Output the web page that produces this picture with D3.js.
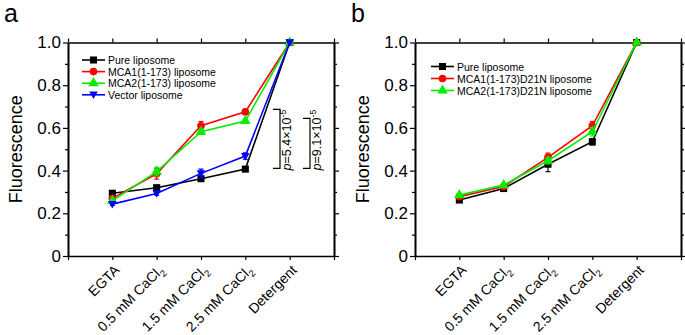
<!DOCTYPE html>
<html>
<head>
<meta charset="utf-8">
<script src="https://cdn.jsdelivr.net/npm/d3@7"></script>
<style>
  body { margin: 0; background: #fff; }
  svg text { font-family: "Liberation Sans", Arial, sans-serif; }
</style>
</head>
<body>
<div id="chart"></div>
<script>
////////////////////////////////////////////////////////////////////////
// Data

let categories = ["EGTA", "0.5 mM CaCl2", "1.5 mM CaCl2", "2.5 mM CaCl2", "Detergent"];
let yTicks = [0, 0.2, 0.4, 0.6, 0.8, 1.0];

// panel a
let pureA   = [0.294, 0.320, 0.362, 0.407, 1.0];
let pureAErr = [0.006, 0.006, 0.008, 0.006, 0.003];
let mca1A   = [0.270, 0.385, 0.610, 0.675, 1.0];
let mca1AErr = [0.010, 0.025, 0.020, 0.010, 0.003];
let mca2A   = [0.258, 0.395, 0.582, 0.632, 1.0];
let mca2AErr = [0.008, 0.020, 0.012, 0.008, 0.003];
let vectorA = [0.243, 0.293, 0.387, 0.468, 1.0];
let vectorAErr = [0.006, 0.008, 0.020, 0.015, 0.003];

// panel b
let pureB   = [0.262, 0.316, 0.430, 0.535, 1.0];
let pureBErr = [0.006, 0.006, 0.035, 0.015, 0.003];
let mca1B   = [0.278, 0.325, 0.462, 0.610, 1.0];
let mca1BErr = [0.006, 0.006, 0.020, 0.020, 0.003];
let mca2B   = [0.285, 0.332, 0.446, 0.582, 1.0];
let mca2BErr = [0.006, 0.006, 0.015, 0.020, 0.003];

// significance brackets in panel a: [top value, bottom value, label mantissa]
let brackets = [
  { top: 0.687, bottom: 0.41, p: "5.4" },
  { top: 0.645, bottom: 0.41, p: "9.1" }
];

let seriesA = [
  { name: "Pure liposome", values: pureA, err: pureAErr, color: "#000000", shape: "square" },
  { name: "MCA1(1-173) liposome", values: mca1A, err: mca1AErr, color: "#ff0000", shape: "circle" },
  { name: "MCA2(1-173) liposome", values: mca2A, err: mca2AErr, color: "#00ee00", shape: "triangle" },
  { name: "Vector liposome", values: vectorA, err: vectorAErr, color: "#0000ff", shape: "down" }
];
let seriesB = [
  { name: "Pure liposome", values: pureB, err: pureBErr, color: "#000000", shape: "square" },
  { name: "MCA1(1-173)D21N liposome", values: mca1B, err: mca1BErr, color: "#ff0000", shape: "circle" },
  { name: "MCA2(1-173)D21N liposome", values: mca2B, err: mca2BErr, color: "#00ee00", shape: "triangle" }
];

////////////////////////////////////////////////////////////////////////
// svg

let width = 685, height = 335;
let svg = d3.select("#chart").append("svg")
  .attr("width", width).attr("height", height);

let plotW = 266, plotH = 213.5;

function markerPath(shape) {
  if (shape === "square") return d3.symbol(d3.symbolSquare, 50)();
  if (shape === "circle") return d3.symbol(d3.symbolCircle, 46)();
  if (shape === "triangle") return d3.symbol(d3.symbolTriangle, 48)();
  // downward triangle
  return "M-4.3,-3.2L4.3,-3.2L0,4.3Z";
}

function drawPanel(left, top, letter, series, legendPos) {
  let g = svg.append("g").attr("transform", "translate(" + left + "," + top + ")");

  let x = d3.scaleLinear().domain([-1, 5]).range([0, plotW]);
  let y = d3.scaleLinear().domain([0, 1]).range([plotH, 0]);
  let minor = d3.range(0.1, 1.0, 0.2);

  // panel letter
  svg.append("text")
    .attr("x", left - 64).attr("y", top - 21)
    .attr("font-size", 25)
    .text(letter);

  // y axis, major and minor ticks
  g.append("g").call(d3.axisLeft(y).tickValues(yTicks).tickSize(5).tickSizeOuter(0)
      .tickFormat(d => d === 0 ? "0" : d3.format(".1f")(d)))
    .call(a => a.selectAll("text").attr("font-size", 17).attr("fill", "#000").attr("x", -7));
  g.append("g").call(d3.axisLeft(y).tickValues(minor).tickSize(3).tickFormat("").tickSizeOuter(0));
  g.append("g").attr("transform", "translate(" + plotW + ",0)")
    .call(d3.axisRight(y).tickValues(yTicks).tickSize(5).tickFormat("").tickSizeOuter(0));
  g.append("g").attr("transform", "translate(" + plotW + ",0)")
    .call(d3.axisRight(y).tickValues(minor).tickSize(3).tickFormat("").tickSizeOuter(0));

  // x axes
  g.append("g").call(d3.axisTop(x).tickValues(d3.range(-1, 6)).tickSize(4).tickFormat("").tickSizeOuter(0));
  g.append("g").attr("transform", "translate(0," + plotH + ")")
    .call(d3.axisBottom(x).tickValues(d3.range(-1, 6)).tickSize(4).tickFormat("").tickSizeOuter(0));

  g.selectAll(".domain").attr("stroke", "#000").attr("stroke-width", 1.6);
  g.selectAll(".tick line").attr("stroke", "#000").attr("stroke-width", 1.2);

  // category labels
  categories.forEach(function(c, i) {
    let t = g.append("text")
      .attr("transform", "translate(" + (x(i) + 8) + "," + (plotH + 15) + ") rotate(-45)")
      .attr("text-anchor", "end")
      .attr("font-size", 14);
    if (c.endsWith("CaCl2")) {
      t.append("tspan").text(c.slice(0, -1));
      t.append("tspan").attr("font-size", 9.5).attr("dy", 4).text("2");
    } else {
      t.text(c);
    }
  });

  // y label
  g.append("text")
    .attr("transform", "translate(-46," + (plotH / 2) + ") rotate(-90)")
    .attr("text-anchor", "middle")
    .attr("font-size", 18)
    .text("Fluorescence");

  // series
  let line = d3.line().x((d, i) => x(i)).y(d => y(d));
  series.forEach(function(s) {
    g.append("path")
      .attr("d", line(s.values))
      .attr("fill", "none").attr("stroke", s.color).attr("stroke-width", 1.6);
    s.values.forEach(function(v, i) {
      let e = s.err[i];
      let eb = g.append("g").attr("stroke", s.color).attr("stroke-width", 1.2);
      eb.append("line").attr("x1", x(i)).attr("x2", x(i)).attr("y1", y(v - e)).attr("y2", y(v + e));
      eb.append("line").attr("x1", x(i) - 2.5).attr("x2", x(i) + 2.5).attr("y1", y(v - e)).attr("y2", y(v - e));
      eb.append("line").attr("x1", x(i) - 2.5).attr("x2", x(i) + 2.5).attr("y1", y(v + e)).attr("y2", y(v + e));
    });
    g.selectAll(null).data(s.values).enter().append("path")
      .attr("d", markerPath(s.shape))
      .attr("transform", (d, i) => "translate(" + x(i) + "," + y(d) + ")")
      .attr("fill", s.color);
  });

  // legend
  let lg = g.append("g").attr("transform", "translate(" + legendPos[0] + "," + legendPos[1] + ")");
  series.forEach(function(s, i) {
    let row = lg.append("g").attr("transform", "translate(0," + (i * legendPos[2]) + ")");
    row.append("line").attr("x1", 0).attr("x2", 23).attr("stroke", s.color).attr("stroke-width", 1.6);
    row.append("path").attr("d", markerPath(s.shape)).attr("transform", "translate(11.5,0)").attr("fill", s.color);
    row.append("text").attr("x", 26).attr("y", 4).attr("font-size", 10.5).text(s.name);
  });

  return { g: g, x: x, y: y };
}

let pa = drawPanel(68, 42.5, "a", seriesA, [14, 17.5, 11.6]);
let pb = drawPanel(415, 42.5, "b", seriesB, [16, 24, 12]);

// p-value brackets in panel a
let bx = [205, 235];
brackets.forEach(function(b, i) {
  let x0 = bx[i];
  let y0 = pa.y(b.top), y1 = pa.y(b.bottom);
  pa.g.append("path")
    .attr("d", "M" + x0 + "," + y0 + "H" + (x0 + 7) + "V" + y1 + "H" + x0)
    .attr("fill", "none").attr("stroke", "#000").attr("stroke-width", 1.2);
  let t = pa.g.append("text")
    .attr("transform", "translate(" + (x0 + 18) + "," + (y1 + 2) + ") rotate(-90)")
    .attr("font-size", 12.5);
  t.append("tspan").attr("font-style", "italic").text("p");
  t.append("tspan").text("=" + b.p + "\u00d710");
  t.append("tspan").attr("font-size", 9).attr("dy", -5).text("-5");
});
</script>
</body>
</html>
